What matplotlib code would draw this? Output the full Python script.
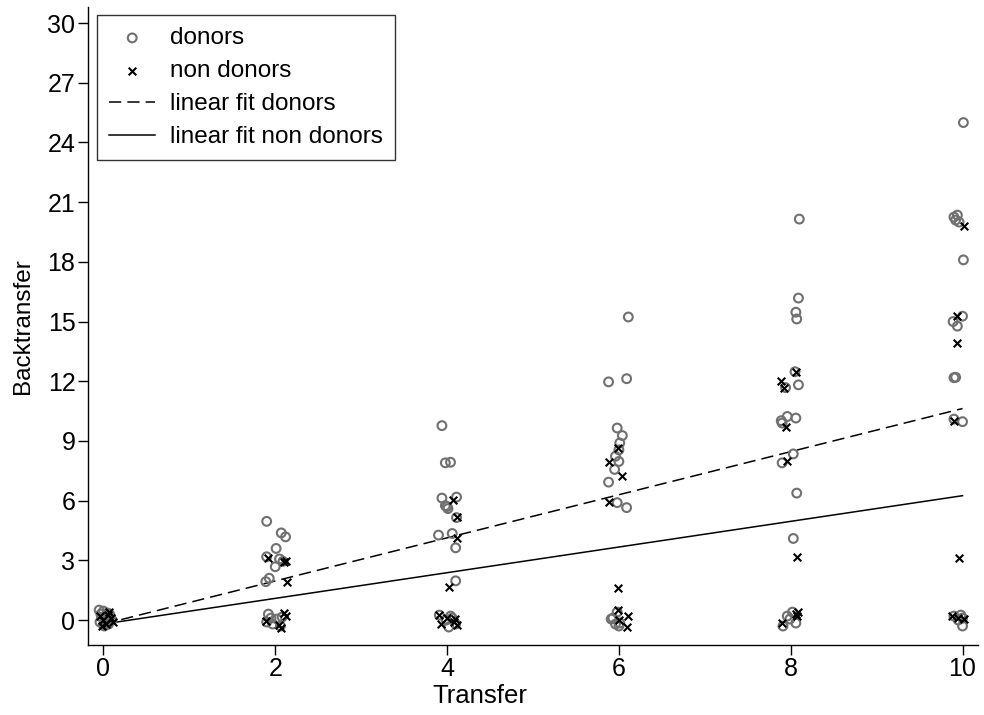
import matplotlib
matplotlib.use('Agg')
import matplotlib.pyplot as plt
import numpy as np

plt.rcParams['font.family'] = ['Liberation Sans', 'DejaVu Sans']

# donors (hollow circles)
donX = [-0.05, -0.03, 0.0, 0.02, 0.05, 0.08, -0.04, 0.01, 0.06, 0.1, -0.02, 0.03, 0.07, 0.0,
        1.90, 2.07, 2.12, 2.01, 1.90, 2.05, 2.0, 2.09, 1.93, 1.89,
        1.92, 1.95, 1.90, 2.06, 2.02, 1.97, 2.08,
        3.94, 3.98, 4.04, 3.94, 4.11, 3.98, 4.01, 4.0, 4.11, 3.9, 4.06, 4.1, 4.1,
        3.91, 4.04, 4.02, 4.06, 4.1, 3.99,
        6.11, 5.88, 6.09, 5.98, 6.04, 6.01, 6.0, 5.96, 6.0, 5.95, 5.88, 5.98, 6.09,
        5.98, 5.93, 5.91, 6.0, 6.01, 5.96,
        8.10, 8.09, 8.06, 8.07, 8.05, 7.94, 8.09, 7.89, 7.90, 7.96, 8.06, 8.03, 7.90, 8.07, 8.03,
        7.91, 7.96, 8.02, 8.06, 7.99,
        10.01, 9.90, 9.94, 9.96, 9.92, 10.01, 10.0, 9.89, 9.94, 9.90, 9.92, 9.90, 10.0,
        9.90, 10.0, 10.0, 9.95, 9.98]
donY = [0.5, 0.3, 0.45, 0.1, 0.35, 0.2, -0.1, -0.3, -0.2, 0.0, 0.15, -0.05, 0.3, -0.25,
        4.96, 4.38, 4.18, 3.6, 3.18, 3.07, 2.68, 2.95, 2.1, 1.93,
        0.3, 0.1, -0.1, -0.3, 0.05, -0.2, 0.15,
        9.77, 7.9, 7.93, 6.13, 6.18, 5.75, 5.6, 5.7, 5.15, 4.27, 4.35, 3.63, 1.97,
        0.25, 0.2, -0.35, 0.1, -0.2, 0.0,
        15.23, 11.97, 12.13, 9.65, 9.27, 8.9, 8.55, 8.23, 7.97, 7.57, 6.93, 5.9, 5.65,
        0.4, 0.1, 0.05, -0.3, -0.15, -0.2,
        20.15, 16.18, 15.47, 15.13, 12.48, 11.68, 11.82, 10.02, 9.9, 10.23, 10.15, 8.35, 7.9, 6.38, 4.1,
        -0.3, 0.2, 0.4, -0.15, 0.05,
        25.0, 20.25, 20.35, 20.0, 20.1, 18.1, 15.27, 15.0, 14.77, 12.18, 12.2, 10.1, 9.97,
        0.2, 0.1, -0.3, 0.0, 0.25]

# non donors (crosses)
nonX = [-0.04, 0.0, 0.03, 0.06, 0.09, -0.02, 0.05, 0.11,
        1.92, 2.12, 2.10, 2.14, 1.89, 2.10, 2.12, 2.04, 2.07,
        4.07, 4.12, 4.12, 4.02, 3.91, 3.93, 4.09, 4.11, 4.08, 4.0,
        5.99, 5.88, 6.04, 5.88, 5.99, 5.99, 6.11, 6.0, 6.09,
        8.06, 7.89, 7.92, 7.94, 7.96, 8.07, 7.90, 8.06, 8.08, 8.07,
        10.02, 9.93, 9.94, 9.90, 9.96, 9.88, 10.02, 9.95]
nonY = [0.2, 0.0, -0.2, 0.4, 0.1, -0.3, 0.25, -0.1,
        3.1, 2.97, 2.9, 1.93, -0.07, 0.35, 0.18, -0.23, -0.4,
        6.02, 5.18, 4.1, 1.68, 0.27, -0.2, 0.05, -0.25, -0.1, 0.1,
        8.65, 7.93, 7.23, 5.93, 1.6, 0.52, 0.18, 0.0, -0.37,
        12.47, 12.02, 11.68, 9.68, 7.98, 3.18, -0.15, 0.3, 0.4, 0.2,
        19.8, 15.3, 13.93, 10.02, 3.13, 0.2, 0.05, 0.1]

# linear fits (intercept, slope)
fitRange = [0.0, 10.0]
fitDonors = [-0.2, 1.083]
fitNonDonors = [-0.2, 0.645]

yTicks = [0, 3, 6, 9, 12, 15, 18, 21, 24, 27, 30]
xTicks = [0, 2, 4, 6, 8, 10]

fig = plt.figure(figsize=(9.84, 7.15), dpi=100)
ax = fig.add_axes([0.0894, 0.098, 0.9045, 0.892])

ax.scatter(donX, donY, s=40, facecolors='none', edgecolors='#707070',
           linewidths=1.5, label='donors', zorder=3)
ax.scatter(nonX, nonY, s=30, marker='x', color='black',
           linewidths=1.5, label='non donors', zorder=4)

xf = np.array(fitRange)
ax.plot(xf, fitDonors[0] + fitDonors[1] * xf, color='black', lw=1.1,
        linestyle=(0, (8, 4)), label='linear fit donors', zorder=2)
ax.plot(xf, fitNonDonors[0] + fitNonDonors[1] * xf, color='black', lw=1.1,
        label='linear fit non donors', zorder=2)

ax.set_xlim(-0.18, 10.18)
ax.set_ylim(-1.25, 30.8)
ax.set_xticks(xTicks)
ax.set_yticks(yTicks)
ax.spines['top'].set_visible(False)
ax.spines['right'].set_visible(False)
for s in ['left', 'bottom']:
    ax.spines[s].set_linewidth(1.0)
ax.tick_params(direction='out', length=7, width=1, labelsize=18, pad=2)
ax.set_xlabel('Transfer', fontsize=18.5)
ax.set_ylabel('Backtransfer', fontsize=17.5)
ax.xaxis.set_label_coords(0.44, -0.062)
ax.yaxis.set_label_coords(-0.061, 0.5)

leg = ax.legend(loc='upper left', bbox_to_anchor=(0.0101, 0.9875), fontsize=17.5,
                frameon=True, fancybox=False, edgecolor='black',
                handlelength=1.9, handletextpad=0.6, borderpad=0.5,
                labelspacing=0.45, borderaxespad=0)
leg.get_frame().set_linewidth(1.0)

fig.savefig('out.png', dpi=100)
